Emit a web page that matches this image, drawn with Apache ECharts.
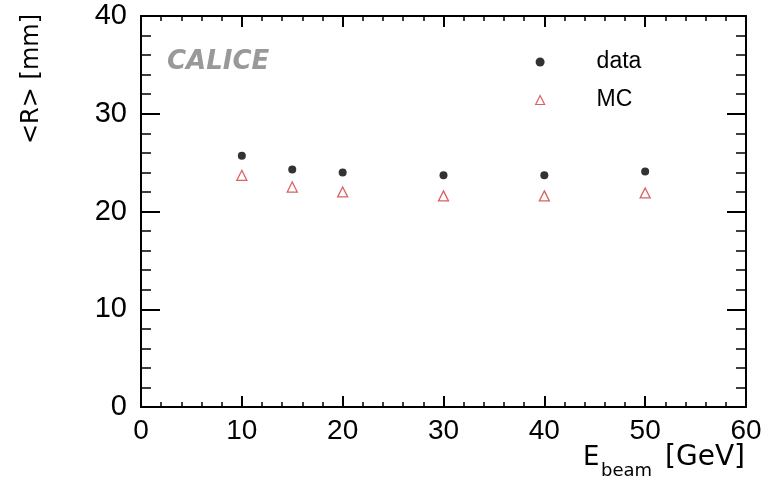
<!DOCTYPE html>
<html>
<head>
<meta charset="utf-8">
<script src="https://cdn.jsdelivr.net/npm/echarts@6/dist/echarts.min.js"></script>
<style>
html,body{margin:0;padding:0;background:#fff;}
#chart{width:773px;height:479px;}
</style>
</head>
<body>
<div id="chart"></div>
<script>
// Data
const energies = [10, 15, 20, 30, 40, 50];
const dataR = [25.7, 24.3, 24.0, 23.7, 23.7, 24.1];
const mcR = [23.7, 22.5, 22.0, 21.6, 21.6, 21.9];
const seriesNames = ['data', 'MC'];

const FONT = 'Liberation Sans';
const TFONT = 'DejaVu Sans';
const MC_COLOR = '#d03a3a';
const chart = echarts.init(document.getElementById('chart'), null, {renderer: 'canvas'});

function pairs(xs, ys) { return xs.map((x, i) => [x, ys[i]]); }

const axisCommon = {
  axisLine: {show: true, onZero: false, lineStyle: {color: '#000', width: 2}},
  splitLine: {show: false},
  minorSplitLine: {show: false}
};

const xBase = Object.assign({}, axisCommon, {
  type: 'value', min: 0, max: 60, interval: 10,
  axisTick: {show: true, inside: true, length: 11, lineStyle: {color: '#000', width: 2}},
  minorTick: {show: true, splitNumber: 5, length: 5, lineStyle: {color: '#000', width: 1.5}}
});
const yBase = Object.assign({}, axisCommon, {
  type: 'value', min: 0, max: 40, interval: 10,
  axisTick: {show: true, inside: true, length: 19, lineStyle: {color: '#000', width: 2}},
  minorTick: {show: true, splitNumber: 5, length: 10, lineStyle: {color: '#000', width: 1.5}}
});

const option = {
  backgroundColor: '#fff',
  animation: false,
  grid: {left: 141, right: 27, top: 16, bottom: 72, containLabel: false},
  xAxis: [
    Object.assign({}, xBase, {position: 'bottom',
      axisLabel: {show: true, margin: 10, fontFamily: FONT, fontSize: 28, color: '#000'}}),
    Object.assign({}, xBase, {position: 'top', axisLabel: {show: false}})
  ],
  yAxis: [
    Object.assign({}, yBase, {position: 'left',
      axisLabel: {show: true, margin: 14, fontFamily: FONT, fontSize: 29, color: '#000'}}),
    Object.assign({}, yBase, {position: 'right', axisLabel: {show: false}})
  ],
  legend: {
    show: true,
    orient: 'vertical',
    left: 535,
    top: 50,
    padding: 0,
    itemWidth: 9,
    itemHeight: 9,
    itemGap: 14,
    data: [
      {name: seriesNames[0], icon: 'circle', itemStyle: {color: '#000', borderWidth: 0}},
      {name: seriesNames[1], icon: 'triangle',
       itemStyle: {color: 'rgba(255,255,255,0)', borderColor: MC_COLOR, borderWidth: 1.2}}
    ],
    textStyle: {fontFamily: FONT, fontSize: 23, color: '#000', lineHeight: 24, padding: [0, 0, 0, 47]}
  },
  series: [
    {
      name: seriesNames[0], type: 'scatter', xAxisIndex: 0, yAxisIndex: 0,
      symbol: 'circle', symbolSize: 8,
      itemStyle: {color: '#000'},
      data: pairs(energies, dataR)
    },
    {
      name: seriesNames[1], type: 'scatter', xAxisIndex: 0, yAxisIndex: 0,
      symbol: 'triangle', symbolSize: 10,
      itemStyle: {color: 'rgba(255,255,255,0)', borderColor: MC_COLOR, borderWidth: 1.3},
      data: pairs(energies, mcR)
    }
  ],
  graphic: [
    {type: 'text', left: 167, top: 49, silent: true,
     style: {text: 'CALICE', fontFamily: TFONT, fontSize: 26, fontWeight: 'bold', fontStyle: 'italic', fill: '#999'}},
    {type: 'text', x: 32, y: 79, rotation: Math.PI / 2, silent: true,
     style: {text: '<R> [mm]', fontFamily: TFONT, fontSize: 24, fill: '#000', align: 'center', verticalAlign: 'middle'}},
    {type: 'text', x: 583, y: 458, silent: true,
     style: {text: 'E', fontFamily: TFONT, fontSize: 26, fill: '#000', align: 'left', verticalAlign: 'middle'}},
    {type: 'text', x: 601, y: 471, silent: true,
     style: {text: 'beam', fontFamily: TFONT, fontSize: 18, fill: '#000', align: 'left', verticalAlign: 'middle'}},
    {type: 'text', x: 745, y: 458, silent: true,
     style: {text: '[GeV]', fontFamily: TFONT, fontSize: 28, fill: '#000', align: 'right', verticalAlign: 'middle'}}
  ]
};
chart.setOption(option);
</script>
</body>
</html>
